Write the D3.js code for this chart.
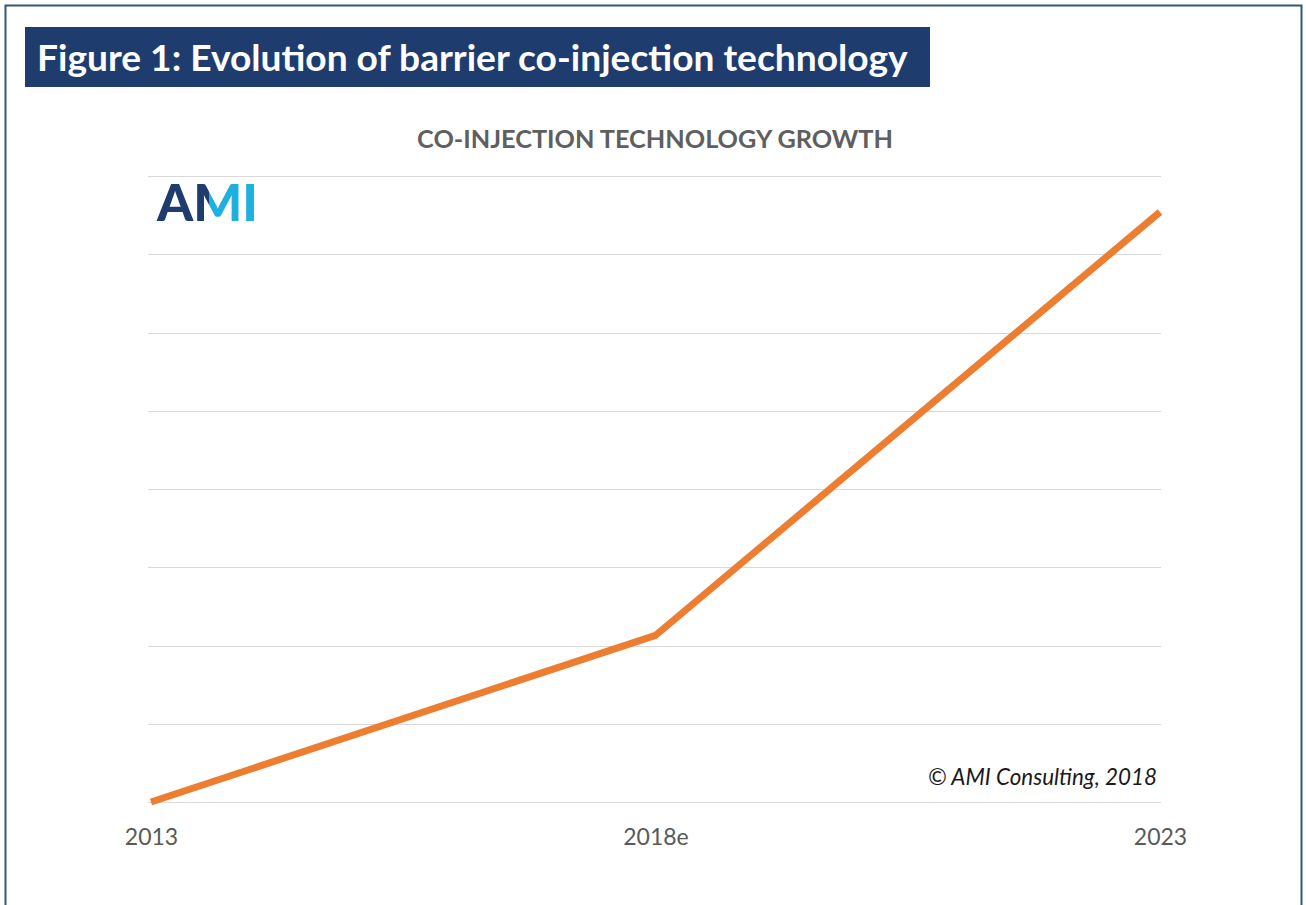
<!DOCTYPE html>
<html>
<head>
<meta charset="utf-8">
<script src="https://cdn.jsdelivr.net/npm/d3@7"></script>
<style>
  body { margin: 0; background: #fff; }
  svg { display: block; }
</style>
</head>
<body>
<script>
// data
const years = ["2013", "2018e", "2023"];
const growth = [0, 2.13, 7.54];
const gridTicks = [0, 1, 2, 3, 4, 5, 6, 7, 8];

const width = 1306;
const height = 905;
const font = "Lato, 'Open Sans', sans-serif";

const svg = d3.select('body')
  .append('svg')
  .attr('width', width)
  .attr('height', height);

// scale a text so it spans w pixels
function fit(sel, w) {
  const l = sel.node().getComputedTextLength();
  const s = parseFloat(sel.attr('font-size'));
  sel.attr('font-size', s * w / l);
  return sel;
}

// frame
svg.append('rect')
  .attr('x', 5.5).attr('y', 5.5)
  .attr('width', 1296).attr('height', 920)
  .attr('fill', 'none')
  .attr('stroke', '#35557a')
  .attr('stroke-width', 2);

// figure banner
svg.append('rect')
  .attr('x', 25).attr('y', 27)
  .attr('width', 905).attr('height', 60)
  .attr('fill', '#1f3c6e');

fit(svg.append('text')
  .attr('x', 37).attr('y', 71)
  .attr('font-family', font)
  .attr('font-weight', 'bold')
  .attr('font-size', 32)
  .attr('fill', '#fff')
  .text('Figure 1: Evolution of barrier co-injection technology'), 871);

// chart title
fit(svg.append('text')
  .attr('x', 655).attr('y', 148)
  .attr('text-anchor', 'middle')
  .attr('font-family', font)
  .attr('font-weight', 'bold')
  .attr('font-size', 21)
  .attr('fill', '#5f5f5f')
  .text('CO-INJECTION TECHNOLOGY GROWTH'), 476);

// scales
const x = d3.scalePoint()
  .domain(years)
  .range([151, 1160]);

const y = d3.scaleLinear()
  .domain([0, 8])
  .range([802, 176]);

// grid
svg.append('g')
  .selectAll('line')
  .data(gridTicks)
  .join('line')
  .attr('x1', 148).attr('x2', 1161)
  .attr('y1', d => Math.round(y(d)) + 0.5)
  .attr('y2', d => Math.round(y(d)) + 0.5)
  .attr('stroke', '#d9d9d9')
  .attr('stroke-width', 1);

// x axis labels
const xAxis = svg.append('g')
  .attr('transform', 'translate(0, 817)')
  .call(d3.axisBottom(x).tickSize(0).tickPadding(12));
xAxis.select('.domain').remove();
xAxis.selectAll('text')
  .attr('font-family', font)
  .attr('font-size', 23)
  .attr('fill', '#595959');

// logo
const defs = svg.append('defs');
const grad = defs.append('linearGradient')
  .attr('id', 'mgrad')
  .attr('x1', 0).attr('x2', 1).attr('y1', 0).attr('y2', 0);
grad.append('stop').attr('offset', '0.52').attr('stop-color', '#1f3c6e');
grad.append('stop').attr('offset', '0.52').attr('stop-color', '#1fb0e0');

const logo = svg.append('text')
  .attr('x', 157).attr('y', 221)
  .attr('font-family', font)
  .attr('font-weight', 900)
  .attr('font-size', 50);
logo.append('tspan').attr('fill', '#1f3c6e').text('A');
logo.append('tspan').attr('fill', 'url(#mgrad)').text('M');
logo.append('tspan').attr('fill', '#1fb0e0').text('I');
fit(logo, 101);

// line
svg.append('path')
  .datum(growth)
  .attr('fill', 'none')
  .attr('stroke', '#ed7d31')
  .attr('stroke-width', 7)
  .attr('stroke-linejoin', 'round')
  .attr('d', d3.line()
    .x((d, i) => x(years[i]))
    .y(d => y(d)));

// copyright
fit(svg.append('text')
  .attr('x', 1157).attr('y', 785)
  .attr('text-anchor', 'end')
  .attr('font-family', font)
  .attr('font-style', 'italic')
  .attr('font-size', 20)
  .attr('fill', '#1a1a1a')
  .text('© AMI Consulting, 2018'), 229);
</script>
</body>
</html>
